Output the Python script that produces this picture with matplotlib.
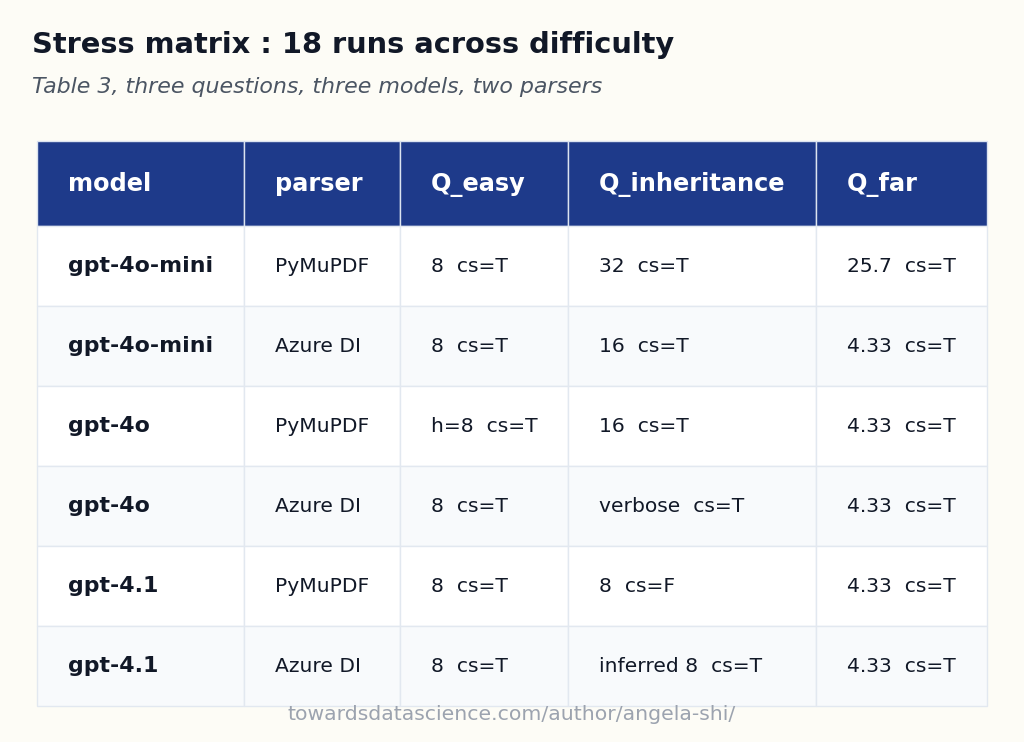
import matplotlib.pyplot as plt
from matplotlib.patches import Rectangle

# table content
columns = ["model", "parser", "Q_easy", "Q_inheritance", "Q_far"]
models = ["gpt-4o-mini", "gpt-4o-mini", "gpt-4o", "gpt-4o", "gpt-4.1", "gpt-4.1"]
parsers = ["PyMuPDF", "Azure DI", "PyMuPDF", "Azure DI", "PyMuPDF", "Azure DI"]
q_easy = ["8  cs=T", "8  cs=T", "h=8  cs=T", "8  cs=T", "8  cs=T", "8  cs=T"]
q_inheritance = ["32  cs=T", "16  cs=T", "16  cs=T", "verbose  cs=T", "8  cs=F", "inferred 8  cs=T"]
q_far = ["25.7  cs=T", "4.33  cs=T", "4.33  cs=T", "4.33  cs=T", "4.33  cs=T", "4.33  cs=T"]

bg = "#fdfcf6"
header_col = "#1e3a8a"
dark = "#111827"
border = "#e2e8f0"

fig = plt.figure(figsize=(10.24, 7.42), dpi=100, facecolor=bg)
ax = fig.add_axes([0, 0, 1, 1])
ax.set_xlim(0, 1024)
ax.set_ylim(742, 0)
ax.axis("off")

ax.text(32, 53, "Stress matrix : 18 runs across difficulty",
        fontsize=20.8, fontweight="bold", color=dark, va="baseline", ha="left")
ax.text(32, 93, "Table 3, three questions, three models, two parsers",
        fontsize=15.9, style="italic", color="#4b5563", va="baseline", ha="left")

col_edges = [37, 244, 400, 568, 816, 987]
top, head_h, row_h = 141, 85, 80
pad = 31

# header
for i, name in enumerate(columns):
    x0, x1 = col_edges[i], col_edges[i + 1]
    ax.add_patch(Rectangle((x0, top), x1 - x0, head_h, facecolor=header_col,
                           edgecolor="#dbe3f0", linewidth=1))
    ax.text(x0 + pad, top + 50, name, color="white", fontsize=17.3,
            fontweight="bold", va="baseline", ha="left")

rows = list(zip(models, parsers, q_easy, q_inheritance, q_far))
for r, row in enumerate(rows):
    y0 = top + head_h + r * row_h
    fill = "white" if r % 2 == 0 else "#f8fafc"
    for i, val in enumerate(row):
        x0, x1 = col_edges[i], col_edges[i + 1]
        ax.add_patch(Rectangle((x0, y0), x1 - x0, row_h, facecolor=fill,
                               edgecolor=border, linewidth=1))
        ax.text(x0 + pad, y0 + 46, val, color=dark,
                fontsize=15.8 if i == 0 else 14.6,
                fontweight="bold" if i == 0 else "normal",
                va="baseline", ha="left")

ax.text(512, 720, "towardsdatascience.com/author/angela-shi/",
        fontsize=14.7, color="#9ca3af", va="baseline", ha="center")

fig.savefig("out.png", dpi=100, facecolor=bg)
